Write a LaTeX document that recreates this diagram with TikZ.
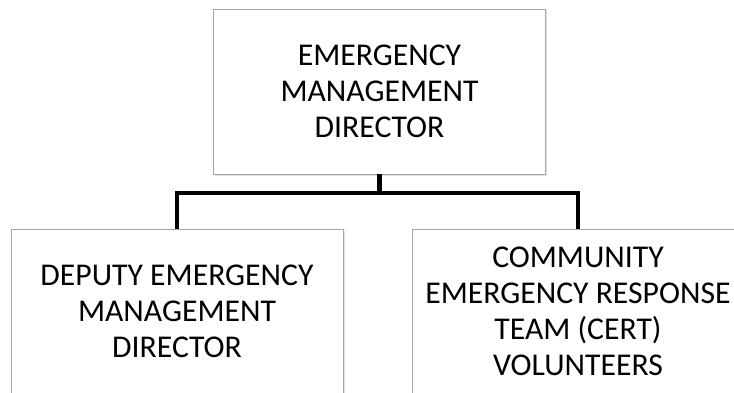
\documentclass[tikz,border=0pt]{standalone}
\usepackage{fontspec}
\setmainfont{Carlito}
\usepackage{tikz}
\usetikzlibrary{shadows}

\begin{document}
\begin{tikzpicture}[x=1pt,y=1pt,
        orgbox/.style={draw=gray!70,line width=0.8pt,fill=white,
            minimum width=332pt,minimum height=165pt,inner sep=0pt,
            align=center,font=\fontsize{31.7}{36}\selectfont,
            drop shadow={opacity=0.25,shadow xshift=1.5pt,shadow yshift=-1.5pt}},
        bus/.style={line width=4.6pt}]

        % Frame
        \useasboundingbox (0,0) rectangle (734,392);
        \clip (0,0) rectangle (734,392);

        % Boxes
        \node[orgbox] (director) at (379.5,300.5) {EMERGENCY\\MANAGEMENT\\DIRECTOR};
        \node[orgbox] (deputy) at (177,80.5) {DEPUTY EMERGENCY\\MANAGEMENT\\DIRECTOR};
        \node[orgbox] (cert) at (578,80.5) {COMMUNITY\\EMERGENCY RESPONSE\\TEAM (CERT)\\VOLUNTEERS};

        % Connectors
        \coordinate (bus) at (379.5,199);
        \draw[bus] (director.south) -- (bus) -| (deputy.north);
        \draw[bus] (bus) -| (cert.north);

\end{tikzpicture}
\end{document}
